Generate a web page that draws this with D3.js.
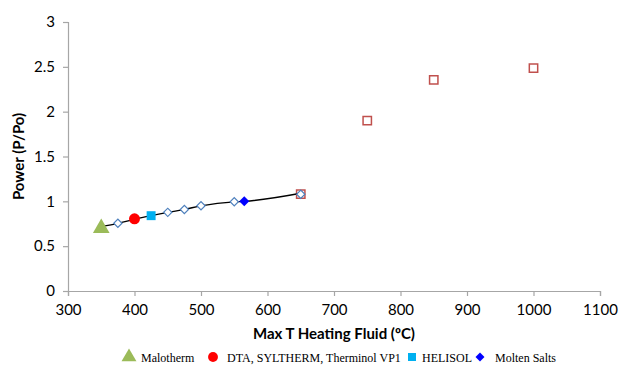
<!DOCTYPE html>
<html>
<head>
<meta charset="utf-8">
<script src="https://cdn.jsdelivr.net/npm/d3@7"></script>
<style>
  body { margin: 0; background: white; }
  svg { display: block; }
</style>
</head>
<body>
<svg id="chart" width="619" height="365"></svg>
<script>
// data
const lineT = [350, 375, 400, 425, 450, 475, 500, 550, 565, 650];
const linePower = [0.72, 0.755, 0.80, 0.84, 0.877, 0.91, 0.95, 0.995, 1.0, 1.09];
const diamondT = [375, 450, 475, 500, 550, 650];
const diamondPower = [0.755, 0.877, 0.91, 0.95, 0.995, 1.08];
const squareT = [650, 750, 850, 1000];
const squarePower = [1.08, 1.90, 2.355, 2.485];
const fluids = ["Malotherm", "DTA, SYLTHERM, Therminol VP1", "HELISOL", "Molten Salts"];
const fluidT = [350, 400, 425, 565];
const fluidPower = [0.70, 0.805, 0.84, 1.0];
const xTicks = [300, 400, 500, 600, 700, 800, 900, 1000, 1100];
const yTicks = [0, 0.5, 1, 1.5, 2, 2.5, 3];

// diamonds are drawn as squares turned 45 degrees
const fluidStyle = [
  { shape: d3.symbolTriangle, size: 120, color: "#9bbb59", rot: 0 },
  { shape: d3.symbolCircle, size: 95, color: "#ff0000", rot: 0 },
  { shape: d3.symbolSquare, size: 80, color: "#00b0f0", rot: 0 },
  { shape: d3.symbolSquare, size: 50, color: "#0000ff", rot: 45 },
];

const svg = d3.select("#chart");
const margin = { left: 68, top: 22, right: 19, bottom: 74 };
const W = 619, H = 365;

const x = d3.scaleLinear().domain([300, 1100]).range([margin.left, W - margin.right]);
const y = d3.scaleLinear().domain([0, 3]).range([H - margin.bottom, margin.top]);

const axisColor = "#a6a6a6";
const tickFont = "Lato, 'Open Sans', sans-serif";

// x axis
const gx = svg.append("g")
  .attr("transform", `translate(0, ${y(0)})`)
  .call(d3.axisBottom(x).tickValues(xTicks).tickSize(5).tickPadding(8).tickFormat(d3.format("d")));
// y axis
const gy = svg.append("g")
  .attr("transform", `translate(${x(300)}, 0)`)
  .call(d3.axisLeft(y).tickValues(yTicks).tickSize(5).tickPadding(8).tickFormat((d) => d));

[gx, gy].forEach((g) => {
  g.select(".domain").attr("stroke", axisColor).attr("stroke-width", 1.2);
  g.selectAll(".tick line").attr("stroke", axisColor).attr("stroke-width", 1.2);
  g.selectAll(".tick text")
    .attr("fill", "#000")
    .style("font-family", tickFont)
    .style("font-size", "15px");
});

// axis titles
svg.append("text")
  .attr("x", (x(300) + x(1100)) / 2)
  .attr("y", 339)
  .attr("text-anchor", "middle")
  .style("font-family", tickFont)
  .style("font-weight", "bold")
  .style("font-size", "15px")
  .text("Max T Heating Fluid (ºC)");

svg.append("text")
  .attr("transform", `translate(24, ${y(1.5)}) rotate(-90)`)
  .attr("text-anchor", "middle")
  .style("font-family", tickFont)
  .style("font-weight", "bold")
  .style("font-size", "15px")
  .text("Power (P/Po)");

// hollow red squares
svg.append("g")
  .selectAll("path")
  .data(squareT)
  .join("path")
  .attr("transform", (d, i) => `translate(${x(d)}, ${y(squarePower[i])})`)
  .attr("d", d3.symbol(d3.symbolSquare, 70))
  .attr("fill", "white")
  .attr("stroke", "#c0504d")
  .attr("stroke-width", 1.5);

// trend line
const line = d3.line()
  .x((d, i) => x(lineT[i]))
  .y((d) => y(d))
  .curve(d3.curveMonotoneX);
svg.append("path")
  .datum(linePower)
  .attr("d", line)
  .attr("fill", "none")
  .attr("stroke", "#000")
  .attr("stroke-width", 1.3);

// hollow blue diamonds
svg.append("g")
  .selectAll("path")
  .data(diamondT)
  .join("path")
  .attr("transform", (d, i) => `translate(${x(d)}, ${y(diamondPower[i])}) rotate(45)`)
  .attr("d", d3.symbol(d3.symbolSquare, 34))
  .attr("fill", "white")
  .attr("stroke", "#4f81bd")
  .attr("stroke-width", 1.2);

// fluid markers
svg.append("g")
  .selectAll("path")
  .data(fluidT)
  .join("path")
  .attr("transform", (d, i) => `translate(${x(d)}, ${y(fluidPower[i])}) rotate(${fluidStyle[i].rot})`)
  .attr("d", (d, i) => d3.symbol(fluidStyle[i].shape, fluidStyle[i].size)())
  .attr("fill", (d, i) => fluidStyle[i].color);

// legend
const legendMarkerX = [129, 213, 412, 480];
const legendTextX = [141, 227, 422, 495];
const legendY = 357;
const legend = svg.append("g");
fluids.forEach((name, i) => {
  legend.append("path")
    .attr("transform", `translate(${legendMarkerX[i]}, ${legendY}) rotate(${fluidStyle[i].rot})`)
    .attr("d", d3.symbol(fluidStyle[i].shape, fluidStyle[i].size * 0.8)())
    .attr("fill", fluidStyle[i].color);
  legend.append("text")
    .attr("x", legendTextX[i])
    .attr("y", legendY + 4.5)
    .style("font-family", "'Liberation Serif', 'Times New Roman', serif")
    .style("font-size", "12px")
    .attr("fill", "#000")
    .text(name);
});
</script>
</body>
</html>
